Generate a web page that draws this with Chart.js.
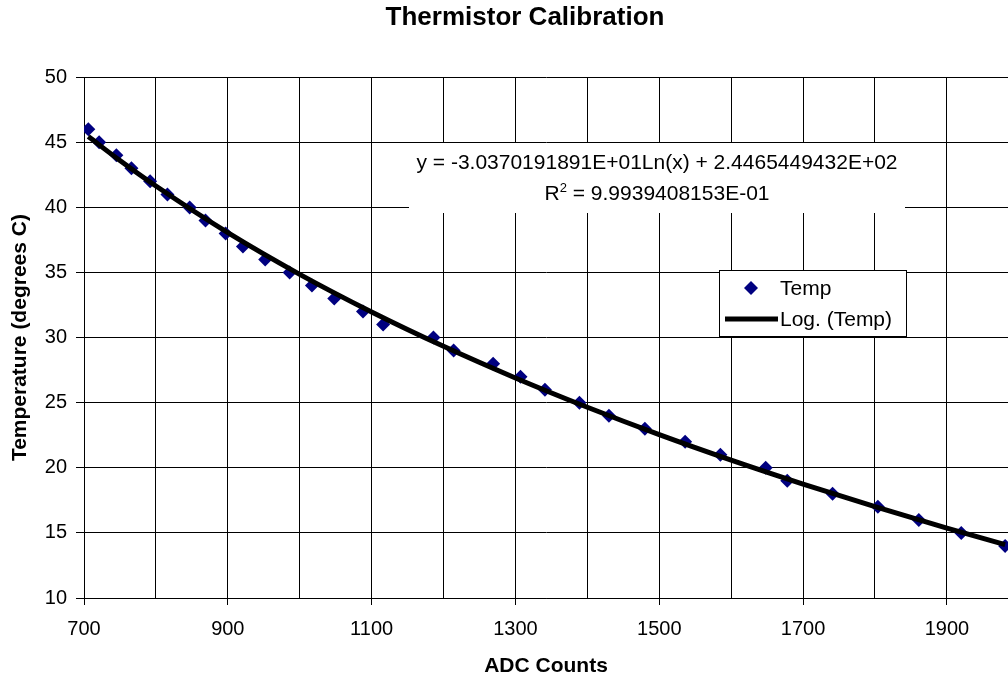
<!DOCTYPE html>
<html>
<head>
<meta charset="utf-8">
<title>Thermistor Calibration</title>
<script src="https://cdn.jsdelivr.net/npm/chart.js"></script>
<style>
  html, body { margin: 0; padding: 0; background: #ffffff; }
  #wrap { width: 1008px; height: 681px; }
</style>
</head>
<body>
<div id="wrap"><canvas id="c" width="1008" height="681"></canvas></div>
<script>
// ---- data ----
const adcCounts = [706, 721, 745, 766, 792, 816, 847, 869, 897, 921, 952, 986, 1017, 1048, 1088, 1116,
                   1186, 1214, 1269, 1307, 1341, 1389, 1430, 1480, 1536, 1585, 1648, 1678, 1741, 1804, 1861, 1920, 1981];
const temps = [46, 45, 44, 43, 42, 41, 40, 39, 38, 37, 36, 35, 34, 33, 32, 31,
               30, 29, 28, 27, 26, 25, 24, 23, 22, 21, 20, 19, 18, 17, 16, 15, 14];
// logarithmic trendline as drawn on the picture (read at these counts)
const trendX = [706, 750, 800, 900, 1000, 1100, 1200, 1300, 1400, 1500, 1600, 1700, 1800, 1900, 1981];
const trendY = [45.44, 43.60, 41.64, 38.06, 34.86, 31.97, 29.33, 26.90, 24.65, 22.55, 20.59, 18.75, 17.01, 15.37, 14.10];

const seriesName = 'Temp';
const trendName = 'Log. (Temp)';
const equationLine1 = 'y = -3.0370191891E+01Ln(x) + 2.4465449432E+02';
const equationR = 'R';
const equationSup = '2';
const equationLine2 = ' = 9.9939408153E-01';

const FONT = '"Liberation Sans", Arial, Helvetica, sans-serif';
Chart.defaults.font.family = FONT;
Chart.defaults.color = '#000000';

const pointData = adcCounts.map((x, i) => ({x: x, y: temps[i]}));
const trendData = trendX.map((x, i) => ({x: x, y: trendY[i]}));

const overlay = {
  id: 'overlay',
  afterDraw(chart) {
    const ctx = chart.ctx;
    ctx.save();
    // equation label (white box hides the grid)
    ctx.fillStyle = '#ffffff';
    ctx.fillRect(409, 143, 496, 70);
    ctx.fillStyle = '#000000';
    ctx.textBaseline = 'alphabetic';
    ctx.font = '21px ' + FONT;
    ctx.textAlign = 'center';
    ctx.fillText(equationLine1, 657, 169);
    ctx.textAlign = 'left';
    const wR = ctx.measureText(equationR).width;
    const wB = ctx.measureText(equationLine2).width;
    ctx.font = '13px ' + FONT;
    const wS = ctx.measureText(equationSup).width;
    let sx = 657 - (wR + wS + wB) / 2;
    ctx.font = '21px ' + FONT;
    ctx.fillText(equationR, sx, 200);
    ctx.font = '13px ' + FONT;
    ctx.fillText(equationSup, sx + wR, 192);
    ctx.font = '21px ' + FONT;
    ctx.fillText(equationLine2, sx + wR + wS, 200);

    // legend
    ctx.fillStyle = '#ffffff';
    ctx.fillRect(719.5, 270.5, 187, 66);
    ctx.strokeStyle = '#000000';
    ctx.lineWidth = 1;
    ctx.strokeRect(719.5, 270.5, 187, 66);
    // diamond marker
    ctx.fillStyle = '#000080';
    ctx.beginPath();
    ctx.moveTo(751, 281);
    ctx.lineTo(758, 288);
    ctx.lineTo(751, 295);
    ctx.lineTo(744, 288);
    ctx.closePath();
    ctx.fill();
    // line sample
    ctx.strokeStyle = '#000000';
    ctx.lineWidth = 5;
    ctx.beginPath();
    ctx.moveTo(725, 319);
    ctx.lineTo(778, 319);
    ctx.stroke();
    ctx.fillStyle = '#000000';
    ctx.font = '21px ' + FONT;
    ctx.textAlign = 'left';
    ctx.fillText(chart.data.datasets[1].label, 780, 295);
    ctx.fillText(chart.data.datasets[0].label, 780, 326);
    ctx.restore();
  }
};

new Chart(document.getElementById('c'), {
  type: 'scatter',
  data: {
    datasets: [
      {
        label: trendName,
        data: trendData,
        showLine: true,
        borderColor: '#000000',
        borderWidth: 5,
        pointRadius: 0,
        pointHoverRadius: 0,
        cubicInterpolationMode: 'monotone',
        fill: false,
        order: 0
      },
      {
        label: seriesName,
        data: pointData,
        showLine: false,
        pointStyle: 'rectRot',
        pointRadius: 7,
        pointHoverRadius: 7,
        pointBorderWidth: 0,
        backgroundColor: '#000080',
        borderColor: '#000080',
        order: 1
      }
    ]
  },
  options: {
    responsive: false,
    animation: false,
    events: [],
    layout: { autoPadding: false, padding: { left: 42, right: 0, top: 0, bottom: 0 } },
    plugins: {
      legend: { display: false },
      tooltip: { enabled: false },
      title: {
        display: true,
        text: 'Thermistor Calibration',
        color: '#000000',
        font: { size: 26, weight: 'bold', family: FONT },
        padding: { top: 2, bottom: 44 }
      }
    },
    scales: {
      x: {
        type: 'linear',
        position: 'bottom',
        min: 700,
        max: 1985,
        afterFit(scale) { scale.height = 83; },
        ticks: {
          stepSize: 100,
          includeBounds: false,
          autoSkip: false,
          maxRotation: 0,
          padding: 12,
          color: '#000000',
          font: { size: 20, family: FONT },
          callback: (v) => (v % 200 === 100 ? String(v) : '')
        },
        grid: {
          color: '#000000',
          lineWidth: 1,
          drawTicks: true,
          tickLength: 7,
          tickColor: (c) => (c.tick && c.tick.value % 200 === 100 ? '#000000' : 'rgba(0,0,0,0)')
        },
        border: { display: true, color: '#000000', width: 1 },
        title: {
          display: true,
          text: 'ADC Counts',
          color: '#000000',
          font: { size: 21, weight: 'bold', family: FONT },
          padding: { top: 0, bottom: 2.5 }
        }
      },
      y: {
        type: 'linear',
        position: 'left',
        min: 10,
        max: 50,
        afterFit(scale) { scale.width = 42; },
        ticks: {
          stepSize: 5,
          padding: 9,
          color: '#000000',
          font: { size: 20, family: FONT }
        },
        grid: {
          color: '#000000',
          lineWidth: 1,
          drawTicks: true,
          tickLength: 8,
          tickColor: '#000000'
        },
        border: { display: true, color: '#000000', width: 1 },
        title: {
          display: true,
          text: 'Temperature (degrees C)',
          color: '#000000',
          font: { size: 21, weight: 'bold', family: FONT },
          padding: { top: -34, bottom: 0 }
        }
      }
    }
  },
  plugins: [overlay]
});
</script>
</body>
</html>
